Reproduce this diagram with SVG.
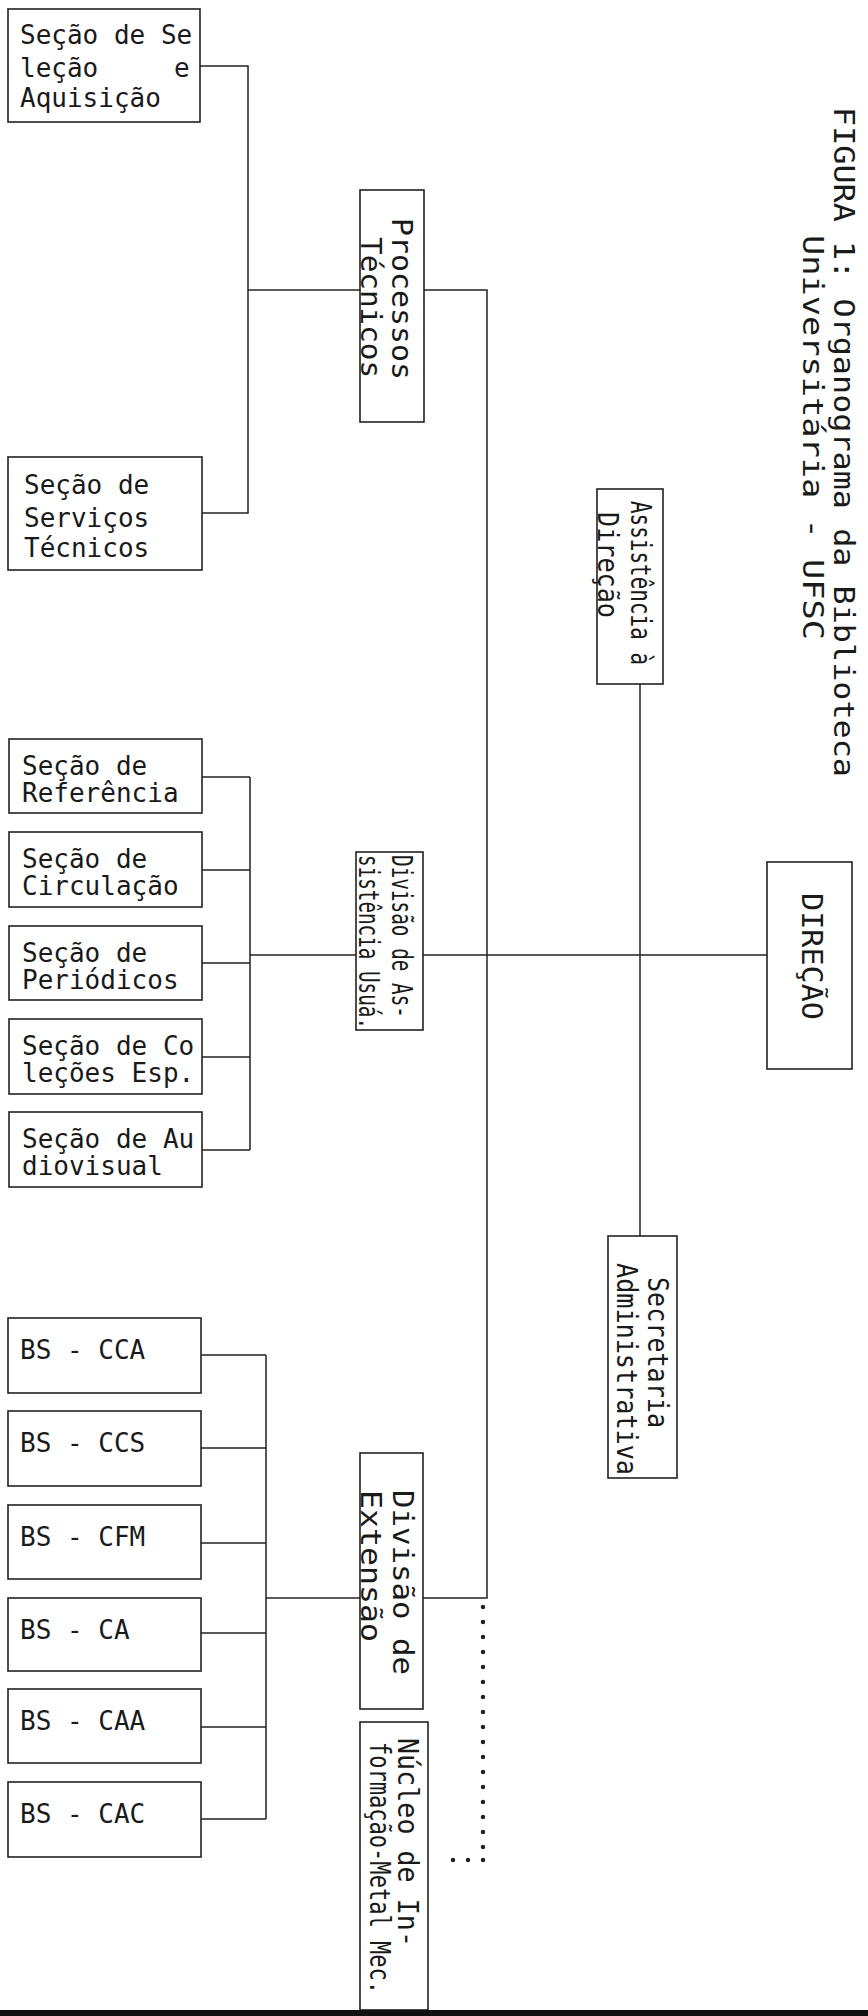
<svg xmlns="http://www.w3.org/2000/svg" width="868" height="2016" viewBox="0 0 868 2016">
<style>
.b{fill:none;stroke:#222;stroke-width:1.6}
.c{fill:none;stroke:#222;stroke-width:1.5}
.d{fill:none;stroke:#222;stroke-width:4.5;stroke-linecap:round;stroke-dasharray:0 15}
.h{font-family:"DejaVu Sans Mono","Liberation Mono",monospace;font-size:26px;fill:#1a1a1a}
.r{font-family:"DejaVu Sans Mono","Liberation Mono",monospace;font-size:28px;fill:#1a1a1a}
</style>
<rect width="868" height="2016" fill="#fff"/>
<g id="connectors">
<path class="c" d="M200,66 H248 V513 H202"/>
<path class="c" d="M248,290 H360"/>
<path class="c" d="M424,290 H487 V1598 H423"/>
<path class="c" d="M423,955 H767"/>
<path class="c" d="M640,684 V1236"/>
<path class="c" d="M250,955 H356"/>
<path class="c" d="M202,777 H250 M202,870 H250 M202,963 H250 M202,1057 H250 M202,1150 H250 M250,777 V1150"/>
<path class="c" d="M201,1355 H266 M201,1448 H266 M201,1543 H266 M201,1633 H266 M201,1727 H266 M201,1819 H266 M266,1355 V1819"/>
<path class="c" d="M266,1598 H360"/>
<path class="d" d="M483,1607 V1860"/>
<path class="d" d="M483,1860 H438"/>
</g>
<g id="title">
<text class="r" transform="translate(834,107) rotate(90)" textLength="670" lengthAdjust="spacingAndGlyphs">FIGURA 1: Organograma da Biblioteca</text>
<text class="r" transform="translate(803,235) rotate(90)" textLength="405" lengthAdjust="spacingAndGlyphs">Universitária - UFSC</text>
</g>
<g id="n-selecao">
<rect class="b" x="8" y="9" width="192" height="113"/>
<text class="h" x="20" y="44">Seção de Se</text>
<text class="h" x="20" y="77">leção<tspan x="174">e</tspan></text>
<text class="h" x="20" y="107">Aquisição</text>
</g>
<g id="n-servicos">
<rect class="b" x="8" y="457" width="194" height="113"/>
<text class="h" x="24" y="494">Seção de</text>
<text class="h" x="24" y="527">Serviços</text>
<text class="h" x="24" y="557">Técnicos</text>
</g>
<g id="n-processos">
<rect class="b" x="360" y="190" width="64" height="232"/>
<text class="r" transform="translate(392,218) rotate(90)" textLength="162" lengthAdjust="spacingAndGlyphs">Processos</text>
<text class="r" transform="translate(361,237) rotate(90)" textLength="141" lengthAdjust="spacingAndGlyphs">Técnicos</text>
</g>
<g id="n-assistencia">
<rect class="b" x="597" y="489" width="66" height="195"/>
<text class="r" transform="translate(631,501) rotate(90)" textLength="164" lengthAdjust="spacingAndGlyphs">Assistência à</text>
<text class="r" transform="translate(598,512) rotate(90)" textLength="106" lengthAdjust="spacingAndGlyphs">Direção</text>
</g>
<g id="n-referencia">
<rect class="b" x="9" y="739" width="193" height="74"/>
<text class="h" x="22" y="775">Seção de</text>
<text class="h" x="22" y="802">Referência</text>
</g>
<g id="n-circulacao">
<rect class="b" x="9" y="832" width="193" height="75"/>
<text class="h" x="22" y="868">Seção de</text>
<text class="h" x="22" y="895">Circulação</text>
</g>
<g id="n-periodicos">
<rect class="b" x="9" y="926" width="193" height="74"/>
<text class="h" x="22" y="962">Seção de</text>
<text class="h" x="22" y="989">Periódicos</text>
</g>
<g id="n-colecoes">
<rect class="b" x="9" y="1019" width="193" height="75"/>
<text class="h" x="22" y="1055">Seção de Co</text>
<text class="h" x="22" y="1082">leções Esp.</text>
</g>
<g id="n-audiovisual">
<rect class="b" x="9" y="1112" width="193" height="75"/>
<text class="h" x="22" y="1148">Seção de Au</text>
<text class="h" x="22" y="1175">diovisual</text>
</g>
<g id="n-div-assistencia">
<rect class="b" x="356" y="852" width="67" height="178"/>
<text class="r" transform="translate(392,855) rotate(90)" textLength="163" lengthAdjust="spacingAndGlyphs">Divisão de As-</text>
<text class="r" transform="translate(359,855) rotate(90)" textLength="174" lengthAdjust="spacingAndGlyphs">sistência Usuá.</text>
</g>
<g id="n-direcao">
<rect class="b" x="767" y="862" width="85" height="207"/>
<text class="r" transform="translate(802,893) rotate(90)" textLength="127" lengthAdjust="spacingAndGlyphs">DIREÇÃO</text>
</g>
<g id="n-secretaria">
<rect class="b" x="608" y="1236" width="69" height="242"/>
<text class="r" transform="translate(648,1277) rotate(90)" textLength="151" lengthAdjust="spacingAndGlyphs">Secretaria</text>
<text class="r" transform="translate(617,1263) rotate(90)" textLength="212" lengthAdjust="spacingAndGlyphs">Administrativa</text>
</g>
<g id="n-bs-cca"><rect class="b" x="8" y="1318" width="193" height="75"/><text class="h" x="20" y="1359">BS - CCA</text></g>
<g id="n-bs-ccs"><rect class="b" x="8" y="1411" width="193" height="75"/><text class="h" x="20" y="1452">BS - CCS</text></g>
<g id="n-bs-cfm"><rect class="b" x="8" y="1505" width="193" height="74"/><text class="h" x="20" y="1546">BS - CFM</text></g>
<g id="n-bs-ca"><rect class="b" x="8" y="1598" width="193" height="73"/><text class="h" x="20" y="1639">BS - CA</text></g>
<g id="n-bs-caa"><rect class="b" x="8" y="1689" width="193" height="74"/><text class="h" x="20" y="1730">BS - CAA</text></g>
<g id="n-bs-cac"><rect class="b" x="8" y="1782" width="193" height="75"/><text class="h" x="20" y="1823">BS - CAC</text></g>
<g id="n-div-extensao">
<rect class="b" x="360" y="1453" width="63" height="256"/>
<text class="r" transform="translate(393,1490) rotate(90)" textLength="185" lengthAdjust="spacingAndGlyphs">Divisão  de</text>
<text class="r" transform="translate(361,1490) rotate(90)" textLength="152" lengthAdjust="spacingAndGlyphs">Extensão</text>
</g>
<g id="n-nucleo">
<rect class="b" x="360" y="1722" width="68" height="288"/>
<text class="r" transform="translate(398,1738) rotate(90)" textLength="209" lengthAdjust="spacingAndGlyphs">Núcleo de In-</text>
<text class="r" transform="translate(370,1742) rotate(90)" textLength="252" lengthAdjust="spacingAndGlyphs">formação-Metal Mec.</text>
</g>
<rect x="0" y="2010" width="868" height="6" fill="#111"/>
</svg>
